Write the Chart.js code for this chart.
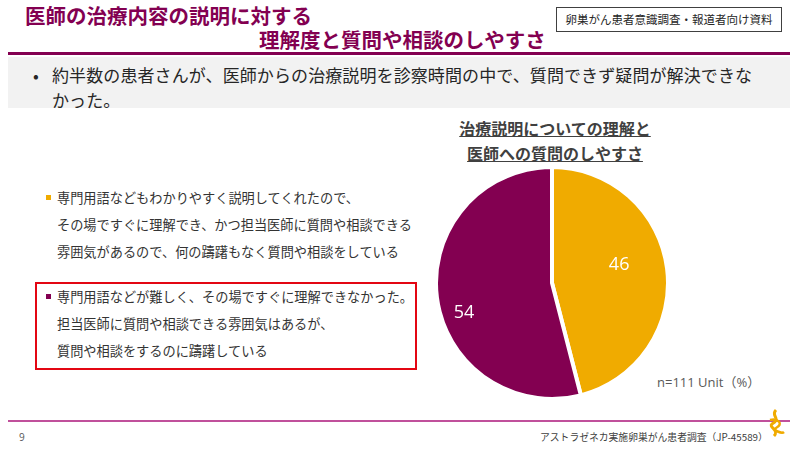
<!DOCTYPE html>
<html>
<head>
<meta charset="utf-8">
<script src="https://cdn.jsdelivr.net/npm/chart.js@4"></script>
<style>
  body{margin:0;width:800px;height:450px;background:#fff;position:relative;overflow:hidden;
    font-family:"Noto Sans CJK JP","Noto Sans",sans-serif;color:#262626}
  .abs{position:absolute;white-space:nowrap}
  #t1,#t2{color:#830051;font-weight:bold;font-size:20.5px;line-height:24px}
  #t1{left:25px;top:3px}
  #t2{left:259px;top:27px}
  #tag{left:556px;top:7px;width:224px;height:23px;border:1px solid #404040;font-size:11.5px;line-height:23px;text-align:center}
  #rule{left:8px;top:52px;width:782px;height:3px;background:#830051}
  #band{left:8px;top:57px;width:782px;height:51px;background:#f2f2f2}
  #dot{left:33px;top:64px;font-size:17px;line-height:22px}
  .bl{left:52px;font-size:17px;line-height:20px;letter-spacing:0.1px}
  #ctitle{left:430px;top:116px;width:250px;text-align:center;font-weight:bold;font-size:16px;line-height:25px;color:#404040;text-decoration:underline}
  .leg{left:46px;font-size:13.2px;line-height:27px;color:#333}
  .sq{display:inline-block;width:5px;height:5px;margin-right:6px;vertical-align:middle;position:relative;top:-2px}
  #box{left:35px;top:282px;width:378px;height:84px;border:2px solid #e30613}
  #n{left:657px;top:372px;font-size:13px;color:#595959;font-family:"Open Sans","Noto Sans CJK JP",sans-serif}
  #frule{left:8px;top:420px;width:782px;height:1.5px;background:#c0509b}
  #page{left:19px;top:430px;font-size:10px;color:#595959;font-family:"Open Sans",sans-serif}
  #foot{left:540px;top:430px;width:217px;text-align:right;font-size:9.8px;color:#404040}
  #wrap{left:434px;top:165px;width:236px;height:236px}
</style>
</head>
<body>
<div class="abs" id="t1">医師の治療内容の説明に対する</div>
<div class="abs" id="t2">理解度と質問や相談のしやすさ</div>
<div class="abs" id="tag">卵巣がん患者意識調査・報道者向け資料</div>
<div class="abs" id="rule"></div>
<div class="abs" id="band"></div>
<div class="abs" id="dot">•</div>
<div class="abs bl" style="top:65px">約半数の患者さんが、医師からの治療説明を診察時間の中で、質問できず疑問が解決できな</div>
<div class="abs bl" style="top:90px">かった。</div>
<div class="abs" id="ctitle">治療説明についての理解と<br>医師への質問のしやすさ</div>
<div class="abs" id="box"></div>
<div id="legend"></div>
<div class="abs" id="n">n=111 Unit（%）</div>
<div class="abs" id="frule"></div>
<div class="abs" id="page">9</div>
<div class="abs" id="foot">アストラゼネカ実施卵巣がん患者調査（JP-45589）</div>
<svg class="abs" style="left:766px;top:408px" width="22" height="32" viewBox="0 0 22 32">
  <path d="M10 2 C4 8,16 10,6 16 C2 19,14 22,8 28" stroke="#f0ab00" stroke-width="3" fill="none"/>
  <path d="M4 12 C12 10,18 16,10 20 C6 22,16 26,18 24" stroke="#f0ab00" stroke-width="2.5" fill="none"/>
</svg>
<div class="abs" id="wrap"><canvas id="pie"></canvas></div>
<script>
var categories = ['理解でき、躊躇なく質問や相談をしている', '理解できず、質問や相談に躊躇している'];
var values = [46, 54];
var colors = ['#f0ab00', '#830051'];
var legendLines = [
  ['専門用語などもわかりやすく説明してくれたので、',
   'その場ですぐに理解でき、かつ担当医師に質問や相談できる',
   '雰囲気があるので、何の躊躇もなく質問や相談をしている'],
  ['専門用語などが難しく、その場ですぐに理解できなかった。',
   '担当医師に質問や相談できる雰囲気はあるが、',
   '質問や相談をするのに躊躇している']
];

// custom legend on the left
var legTops = [184, 283];
var leg = document.getElementById('legend');
for (let i = 0; i < legendLines.length; i++) {
  let d = document.createElement('div');
  d.className = 'abs leg';
  d.style.top = legTops[i] + 'px';
  let html = '<span class="sq" style="background:' + colors[i] + '"></span>' + legendLines[i][0];
  for (let k = 1; k < legendLines[i].length; k++) {
    html += '<br><span style="margin-left:11px">' + legendLines[i][k] + '</span>';
  }
  d.innerHTML = html;
  leg.appendChild(d);
}

// value labels inside slices
var labelRadius = [0.6, 0.8];
var sliceLabels = {
  id: 'sliceLabels',
  afterDatasetsDraw: function(chart) {
    var ctx = chart.ctx;
    var meta = chart.getDatasetMeta(0);
    ctx.save();
    ctx.fillStyle = '#fff';
    ctx.font = '18px "Open Sans", sans-serif';
    ctx.textAlign = 'center';
    ctx.textBaseline = 'middle';
    meta.data.forEach(function(arc, i) {
      var p = arc.getProps(['x', 'y', 'startAngle', 'endAngle', 'outerRadius']);
      var a = (p.startAngle + p.endAngle) / 2 + (i === 0 ? -0.14 : -0.2);
      var r = p.outerRadius * labelRadius[i];
      ctx.fillText(chart.data.datasets[0].data[i], p.x + Math.cos(a) * r, p.y + Math.sin(a) * r);
    });
    ctx.restore();
  }
};

new Chart(document.getElementById('pie'), {
  type: 'pie',
  data: {
    labels: categories,
    datasets: [{
      data: values,
      backgroundColor: colors,
      borderColor: '#fff',
      borderWidth: 4
    }]
  },
  options: {
    responsive: true,
    maintainAspectRatio: false,
    animation: false,
    plugins: {
      legend: { display: false },
      tooltip: { enabled: false }
    }
  },
  plugins: [sliceLabels]
});
</script>
</body>
</html>
